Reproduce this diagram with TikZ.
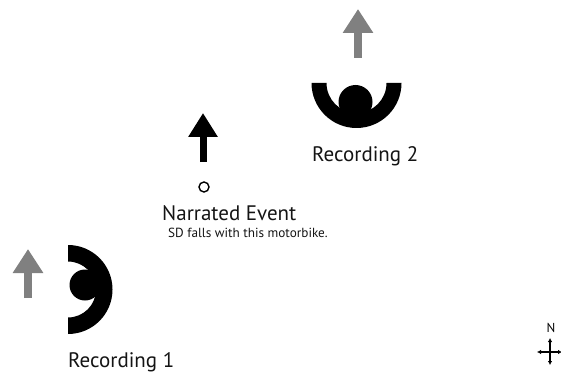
\documentclass[tikz,border=0pt]{standalone}
\usepackage{fontspec}
\setmainfont{PT Sans}
\usetikzlibrary{arrows.meta, positioning}
\definecolor{colMic}{RGB}{0,0,0}
\definecolor{colFacing}{RGB}{128,128,128}
\definecolor{colText}{RGB}{20,20,20}
\tikzset{
  mic/.style={fill=colMic, draw=none},
  facing/.style={-{Triangle[length=24pt, width=29pt]}, line width=8pt, color=colFacing},
  heading/.style={-{Triangle[length=24pt, width=28pt]}, line width=7pt, color=colMic},
  recLabel/.style={anchor=base west, inner sep=0pt, text=colText, font=\fontsize{21}{23}\selectfont},
  eventLabel/.style={anchor=base west, inner sep=0pt, text=colText, font=\fontsize{21}{23}\selectfont},
  noteLabel/.style={anchor=base west, inner sep=0pt, text=colText, font=\fontsize{13.2}{15}\selectfont},
  compass/.style={{Latex[length=4pt, width=4.5pt]}-{Latex[length=4pt, width=4.5pt]}, line width=1.3pt},
}

\begin{document}
\begin{tikzpicture}[x=1pt, y=-1pt]
\useasboundingbox (0,0) rectangle (561,374);

% ---- Recording 2 (opening upwards) ----------------------------
\fill[mic] (401.5,83) arc[start angle=0, end angle=180, radius=45]
  -- (326.5,83) arc[start angle=180, end angle=0, radius=30] -- cycle;
\fill[mic] (355.5,102) circle[radius=17];
\coordinate (rec2tail) at (358,58);
\coordinate (rec2tip) at (358,9);
\draw[facing] (rec2tail) -- (rec2tip);
\node[recLabel] (rec2label) at (312,161) {Recording 2};

% ---- Recording 1 (opening to the left) ------------------------
\fill[mic] (68,245) arc[start angle=-90, end angle=90, radius=44.5]
  -- (68,317.5) arc[start angle=90, end angle=-90, radius=28] -- cycle;
\fill[mic] (85,285) circle[radius=15.5];
\coordinate (rec1tail) at (28,298);
\coordinate (rec1tip) at (28,249);
\draw[facing] (rec1tail) -- (rec1tip);
\node[recLabel] (rec1label) at (68,367) {Recording 1};

% ---- Narrated event --------------------------------------------
\coordinate (eventtail) at (203,162);
\coordinate (eventtip) at (203,113);
\draw[heading] (eventtail) -- (eventtip);
\node[circle, draw, line width=1.4pt, minimum size=10pt, inner sep=0pt] (event) at (204,187) {};
\node[eventLabel] (eventlabel) at (162,220) {Narrated Event};
\node[noteLabel] (eventnote) at (168,237) {SD falls with this motorbike.};

% ---- Compass ---------------------------------------------------
\coordinate (cn) at (550,338);
\coordinate (cs) at (550,365);
\coordinate (cw) at (537,352);
\coordinate (ce) at (562,352);
\draw[compass] (cs) -- (cn);
\draw[compass] (cw) -- (ce);
\node[font=\fontsize{13}{15}\selectfont, inner sep=0pt] (northlabel) at (551,328) {N};

\end{tikzpicture}
\end{document}
